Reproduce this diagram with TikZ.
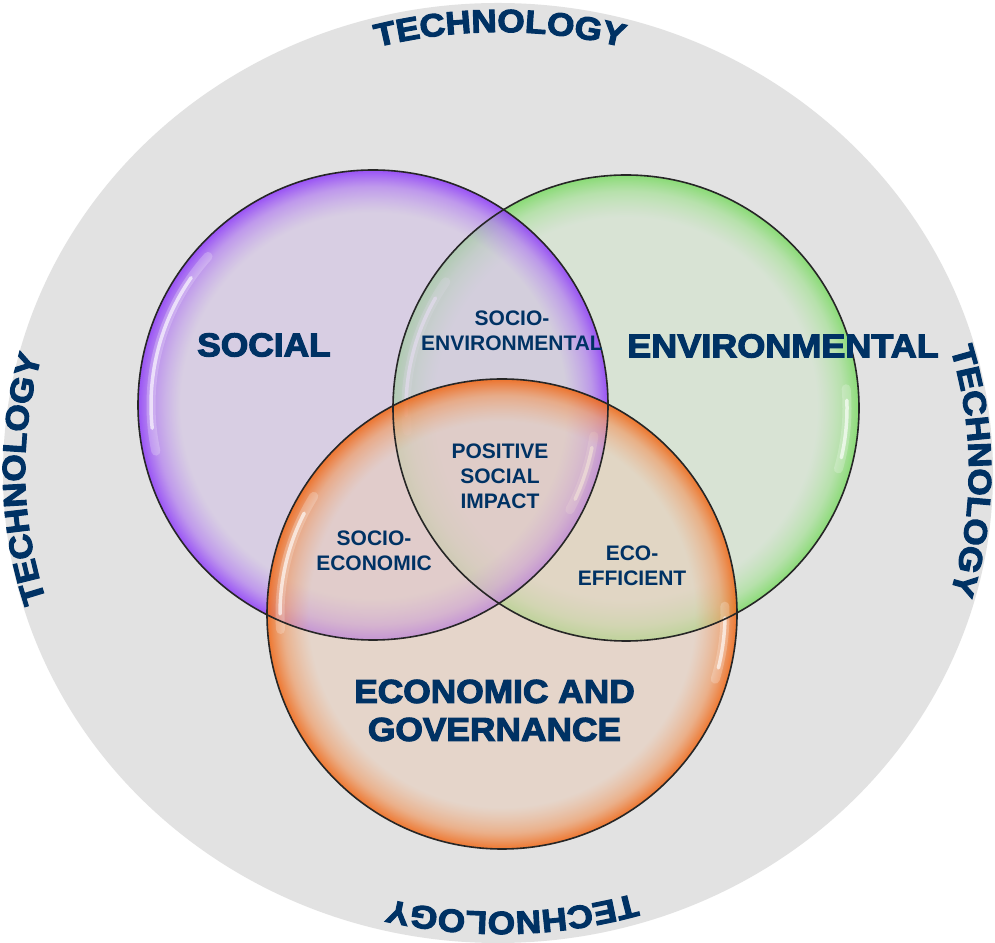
\documentclass[tikz,border=0pt]{standalone}
\usepackage{fontspec}
\setmainfont{Liberation Sans}
\newfontfamily\heavyfont{Liberation Sans}[BoldFeatures={FakeBold=3.5,FakeStretch=1.07}]
\newfontfamily\techfont{Liberation Sans}[BoldFeatures={FakeBold=3.5,FakeStretch=1.1}]
\usetikzlibrary{decorations.text,fadings}

\definecolor{navy}{RGB}{0,50,100}
\definecolor{bggrey}{RGB}{226,226,226}
\definecolor{pin}{RGB}{208,190,228}
\definecolor{pmid}{RGB}{180,130,240}
\definecolor{prim}{RGB}{145,66,248}
\definecolor{gin}{RGB}{208,228,202}
\definecolor{gmid}{RGB}{170,225,155}
\definecolor{grim}{RGB}{128,219,106}
\definecolor{oin}{RGB}{233,204,184}
\definecolor{omid}{RGB}{238,160,110}
\definecolor{orim}{RGB}{240,106,26}

\pgfdeclareradialshading{purplebubble}{\pgfpointorigin}{color(0bp)=(pin); color(20.5bp)=(pin); color(23.3bp)=(pmid); color(25bp)=(prim); color(50bp)=(prim)}
\pgfdeclareradialshading{greenbubble}{\pgfpointorigin}{color(0bp)=(gin); color(20.5bp)=(gin); color(23.3bp)=(gmid); color(25bp)=(grim); color(50bp)=(grim)}
\pgfdeclareradialshading{orangebubble}{\pgfpointorigin}{color(0bp)=(oin); color(20.5bp)=(oin); color(23.3bp)=(omid); color(25bp)=(orim); color(50bp)=(orim)}
\pgfdeclareradialshading{rimfadeshade}{\pgfpointorigin}{color(0bp)=(pgftransparent!45); color(20.5bp)=(pgftransparent!45); color(25bp)=(pgftransparent!10); color(50bp)=(pgftransparent!10)}
\pgfdeclarefading{rimfade}{\pgfuseshading{rimfadeshade}}

\tikzset{
  biglabel/.style={text=navy, inner sep=0pt, align=center, font={\heavyfont\bfseries\fontsize{33}{38}\selectfont}},
  smalllabel/.style={text=navy, inner sep=0pt, align=center, font={\bfseries\fontsize{21}{25}\selectfont}},
  outline/.style={draw=black!85, line width=1.6},
  glint/.style={draw=white, line cap=round, opacity=0.65, line width=3.5},
  glintsoft/.style={draw=white, line cap=round, opacity=0.22, line width=9},
  techtext/.style={decorate, decoration={text along path, text={|\techfont\bfseries\fontsize{32}{32}\selectfont|TECHNOLOGY}, text align=center, text color=navy}}
}

\begin{document}
\begin{tikzpicture}[x=1pt,y=1pt]
\useasboundingbox (0,0) rectangle (995,942);
\fill[white] (0,0) rectangle (995,942);
\fill[bggrey] (498,469) ellipse [x radius=495, y radius=470];

% TECHNOLOGY around the ring
\coordinate (T) at (500,471);
\path[techtext] (T) ++(120:473 and 439) arc[start angle=120, end angle=60, x radius=473, y radius=439];
\path[techtext] (T) ++(30:469 and 439) arc[start angle=30, end angle=-30, x radius=469, y radius=439];
\path[techtext] (T) ++(-58.5:473 and 441) arc[start angle=-58.5, end angle=-118.5, x radius=473, y radius=441];
\path[techtext] (T) ++(211:475 and 439) arc[start angle=211, end angle=151, x radius=475, y radius=439];

\coordinate (P) at (373,537);
\coordinate (G) at (626,534);
\coordinate (O) at (502,328);

% green
\shade[shading=greenbubble, path fading=rimfade] (G) circle[radius=233];
\draw[glintsoft] (G) ++(145:220) arc[start angle=145, end angle=186, radius=220];
\draw[glint] (G) ++(150:220) arc[start angle=150, end angle=182, radius=220];
\draw[glintsoft] (G) ++(5:221) arc[start angle=5, end angle=-16, radius=221];
\draw[glint] (G) ++(2:221) arc[start angle=2, end angle=-13, radius=221];
% purple
\shade[shading=purplebubble, path fading=rimfade] (P) circle[radius=235];
\draw[glintsoft] (P) ++(138:222) arc[start angle=138, end angle=192, radius=222];
\draw[glint] (P) ++(145:222) arc[start angle=145, end angle=186, radius=222];
\draw[glintsoft] (P) ++(-8:223) arc[start angle=-8, end angle=-28, radius=223];
\draw[glint] (P) ++(-11:223) arc[start angle=-11, end angle=-25, radius=223];
% orange
\shade[shading=orangebubble, path fading=rimfade] (O) circle[radius=235];
\draw[glintsoft] (O) ++(148:222) arc[start angle=148, end angle=184, radius=222];
\draw[glint] (O) ++(153:222) arc[start angle=153, end angle=180, radius=222];
\draw[glintsoft] (O) ++(2:223) arc[start angle=2, end angle=-17, radius=223];
\draw[glint] (O) ++(-1:223) arc[start angle=-1, end angle=-14, radius=223];

% outlines
\draw[outline] (G) circle[radius=233];
\draw[outline] (P) circle[radius=235];
\draw[outline] (O) circle[radius=235];

% labels
\node[biglabel] (social) at (264,597) {SOCIAL};
\node[biglabel] (env) at (783,596) {\scalebox{1.02}[1]{ENVIRONMENTAL}};
\node[biglabel] (econ) at (494.5,231.5) {ECONOMIC AND\\GOVERNANCE};
\node[smalllabel] (socenv) at (512,611) {SOCIO-\\ENVIRONMENTAL};
\node[smalllabel] (psi) at (500,466) {POSITIVE\\SOCIAL\\IMPACT};
\node[smalllabel] (soceco) at (374,391) {SOCIO-\\ECONOMIC};
\node[smalllabel] (ecoeff) at (632,376) {ECO-\\EFFICIENT};
\end{tikzpicture}
\end{document}
